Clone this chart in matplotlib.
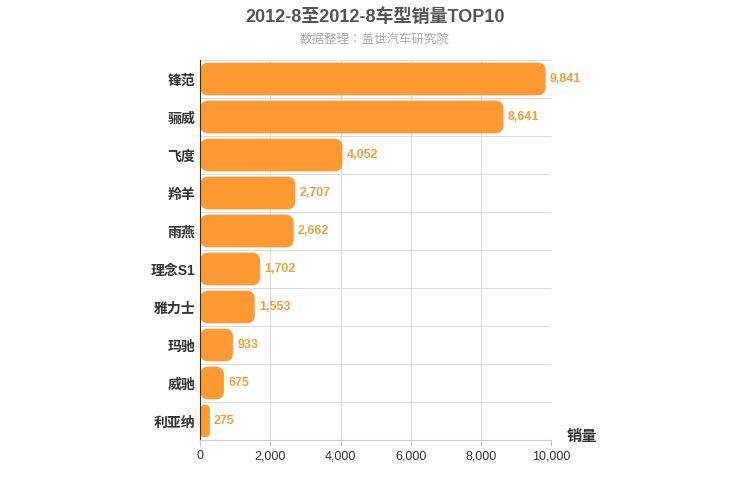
import matplotlib
matplotlib.use('Agg')
import matplotlib.pyplot as plt
from matplotlib import font_manager
from matplotlib.patches import FancyBboxPatch

cjk = [f.name for f in font_manager.fontManager.ttflist if 'CJK' in f.name]
cjk_pref = [n for n in ['Noto Sans CJK SC', 'Noto Sans CJK JP', 'Noto Sans CJK TC', 'Noto Sans CJK KR'] if n in cjk] or cjk
plt.rcParams['font.family'] = ['Liberation Sans'] + cjk_pref[:1] + ['DejaVu Sans']

models = ['锋范', '骊威', '飞度', '羚羊', '雨燕', '理念S1', '雅力士', '玛驰', '威驰', '利亚纳']
sales = [9841, 8641, 4052, 2707, 2662, 1702, 1553, 933, 675, 275]
xticks = [0, 2000, 4000, 6000, 8000, 10000]

BAR = '#FF9A33'
fig = plt.figure(figsize=(7.5, 5), dpi=100)
ax = fig.add_axes([0.267, 0.12, 0.468, 0.76])

n = len(models)
h = 0.86
# data units per pixel, to keep the corners round
xpp = 10000 / 351.0
ypp = n / 380.0
for i, v in enumerate(sales):
    y = n - 1 - i
    ax.add_patch(FancyBboxPatch((0, y - h / 2), v, h,
                                boxstyle='round,pad=0,rounding_size=%f' % min(8 * xpp, v / 2),
                                mutation_aspect=ypp / xpp,
                                fc=BAR, ec='none'))
    ax.text(v + 120, y, f'{v:,}', va='center', ha='left',
            color='#F0A040', fontsize=9, fontweight='bold')

ax.set_xlim(0, 10000)
ax.set_ylim(-0.5, n - 0.5)
ax.set_yticks(range(n))
ax.set_yticklabels(models[::-1], fontsize=10, fontweight='bold', color='#333333')
ax.set_xticks(xticks)
ax.set_xticklabels([f'{t:,}' for t in xticks], fontsize=9, color='#333333')
ax.grid(axis='x', color='#dddddd', lw=0.8)
ax.set_yticks([i - 0.5 for i in range(n + 1)], minor=True)
ax.grid(True, axis='y', which='minor', color='#dddddd', lw=0.8)
ax.set_axisbelow(True)
for s in ['top', 'right']:
    ax.spines[s].set_visible(False)
ax.spines['left'].set_color('#333333')
ax.spines['bottom'].set_color('#cccccc')
ax.tick_params(axis='y', which='both', length=0)
ax.tick_params(axis='x', length=4, color='#cccccc')

fig.text(0.5, 0.965, '2012-8至2012-8车型销量TOP10', ha='center', va='center',
         fontsize=13, fontweight='bold', color='#555555')
fig.text(0.5, 0.92, '数据整理：盖世汽车研究院', ha='center', va='center',
         fontsize=9, color='#aaaaaa')
fig.text(0.755, 0.125, '销量', ha='left', va='center', fontsize=11,
         fontweight='bold', color='#333333')

fig.savefig('out.png', dpi=100)
